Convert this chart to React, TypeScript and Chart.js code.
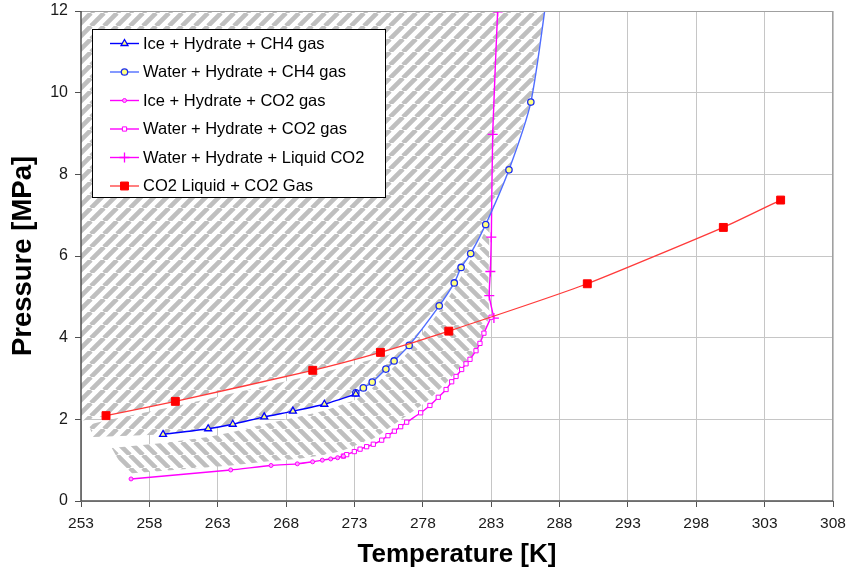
import React, { useEffect, useRef } from 'react';
import { Chart, registerables } from 'chart.js';
import { drawPoint } from 'chart.js/helpers';

Chart.register(...registerables);

// ---------- data ----------
const seriesLabels = [
  'Ice + Hydrate + CH4 gas',
  'Water + Hydrate + CH4 gas',
  'Ice + Hydrate + CO2 gas',
  'Water + Hydrate + CO2 gas',
  'Water + Hydrate + Liquid CO2',
  'CO2 Liquid + CO2 Gas',
];

const ch4IceT = [259.0, 262.3, 264.1, 266.4, 268.5, 270.8, 273.1];
const ch4IceP = [1.63, 1.77, 1.88, 2.06, 2.2, 2.37, 2.62];

const ch4WaterT = [273.1, 273.65, 274.3, 275.3, 275.9, 277.0, 279.2, 280.3, 280.8, 281.5, 282.6, 284.3, 285.9, 287.12];
const ch4WaterP = [2.65, 2.77, 2.91, 3.23, 3.43, 3.81, 4.78, 5.34, 5.72, 6.06, 6.77, 8.11, 9.77, 12.5];

const co2IceT = [256.66, 263.95, 266.9, 268.82, 269.94, 270.65, 271.26, 271.77, 272.19];
const co2IceP = [0.54, 0.76, 0.87, 0.91, 0.96, 1.0, 1.03, 1.06, 1.1];

const co2WaterT = [272.19, 272.43, 272.99, 273.41, 273.89, 274.38, 274.99, 275.45, 275.92, 276.38, 276.82, 277.84, 278.52, 279.13, 279.7, 280.11, 280.43, 280.84, 281.16, 281.45, 281.89, 282.18, 282.47, 282.99];
const co2WaterP = [1.1, 1.135, 1.21, 1.27, 1.33, 1.39, 1.49, 1.6, 1.71, 1.82, 1.93, 2.16, 2.34, 2.54, 2.73, 2.92, 3.05, 3.22, 3.36, 3.47, 3.68, 3.86, 4.11, 4.5];

const liqCo2T = [283.2, 282.86, 282.94, 283.01, 283.11, 283.47];
const liqCo2P = [4.48, 5.03, 5.62, 6.46, 8.98, 11.98];

const co2VapT = [254.83, 259.9, 269.95, 274.9, 279.9, 290.03, 299.98, 304.17];
const co2VapP = [2.09, 2.44, 3.2, 3.64, 4.16, 5.32, 6.7, 7.37];

// hatched zones (outline vertices, T [K] / P [MPa])
const zoneUpperT = [253, 286.9, 285.9, 284.3, 282.6, 281.5, 280.8, 280.3, 279.2, 277.15, 274.9, 269.95, 259.9, 254.83, 253];
const zoneUpperP = [12, 12, 9.77, 8.11, 6.77, 6.06, 5.72, 5.34, 4.78, 3.87, 3.64, 3.2, 2.44, 2.09, 1.96];

const zoneMidT = [253.55, 254.83, 259.9, 269.95, 274.9, 276.7, 275.9, 275.3, 274.3, 273.65, 273.1, 270.8, 268.5, 266.4, 264.1, 262.3, 259.0, 253.9];
const zoneMidP = [1.87, 1.97, 2.32, 3.08, 3.52, 3.7, 3.43, 3.23, 2.91, 2.77, 2.62, 2.37, 2.2, 2.06, 1.88, 1.77, 1.63, 1.57];

const zoneLowT = [255.25, 259.0, 262.3, 264.1, 266.4, 268.5, 270.8, 273.1, 274.3, 275.9, 277.0, 279.2, 280.3, 281.5, 282.6, 282.92,
  282.86, 282.82, 282.76, 282.9,
  282.35, 282.0, 281.7, 281.25, 280.65, 279.95, 279.5, 278.9, 278.3, 277.6, 276.6, 275.7, 274.8, 274.2, 273.2, 272.0, 270.65, 268.8, 266.9, 263.95, 256.3];
const zoneLowP = [1.3, 1.42, 1.57, 1.69, 1.88, 2.03, 2.21, 2.48, 2.77, 3.29, 3.67, 4.64, 5.2, 5.92, 6.63, 6.95,
  6.45, 5.62, 5.03, 4.55,
  4.05, 3.78, 3.6, 3.42, 3.25, 2.98, 2.82, 2.63, 2.44, 2.27, 2.04, 1.83, 1.61, 1.5, 1.38, 1.22, 1.12, 1.03, 0.98, 0.87, 0.67];

const xMin = 253;
const xMax = 308;
const xStep = 5;
const yMin = 0;
const yMax = 12;
const yStep = 2;

const pts = (xs: number[], ys: number[]) => xs.map((x, i) => ({ x, y: ys[i] }));

function makeHatch(dir: number) {
  const s = 13;
  const c = document.createElement('canvas');
  c.width = s;
  c.height = s;
  const g = c.getContext('2d')!;
  g.fillStyle = '#ffffff';
  g.fillRect(0, 0, s, s);
  g.strokeStyle = '#bfbfbf';
  g.lineWidth = 4.6;
  g.beginPath();
  for (const o of [-s, 0, s]) {
    if (dir > 0) {
      g.moveTo(o, s);
      g.lineTo(o + s, 0);
    } else {
      g.moveTo(o, 0);
      g.lineTo(o + s, s);
    }
  }
  g.stroke();
  return g.createPattern(c, 'repeat')!;
}

const SANS = "'Liberation Sans', Arial, Helvetica, sans-serif";

export default function App() {
  const ref = useRef<HTMLCanvasElement>(null);

  useEffect(() => {
    const canvas = ref.current!;
    const patA = makeHatch(1);
    const patB = makeHatch(-1);

    const zone = (data: any[], pat: CanvasPattern) => ({
      label: '',
      data,
      fill: 'shape',
      backgroundColor: pat,
      borderWidth: 0,
      pointRadius: 0,
      tension: 0,
      order: 20,
    });

    const framePlugin = {
      id: 'frame',
      afterDatasetsDraw(chart: any) {
        const { ctx, chartArea: a } = chart;
        ctx.save();
        ctx.lineWidth = 1;
        ctx.strokeStyle = '#a0a0a0';
        ctx.beginPath();
        ctx.moveTo(a.left, a.top + 0.5);
        ctx.lineTo(a.right, a.top + 0.5);
        ctx.moveTo(a.right - 0.5, a.top);
        ctx.lineTo(a.right - 0.5, a.bottom);
        ctx.stroke();
        ctx.lineWidth = 1.5;
        ctx.strokeStyle = '#505050';
        ctx.beginPath();
        ctx.moveTo(a.left, a.top);
        ctx.lineTo(a.left, a.bottom);
        ctx.lineTo(a.right, a.bottom);
        ctx.stroke();
        ctx.restore();
      },
    };

    const legendPlugin = {
      id: 'boxLegend',
      afterDraw(chart: any) {
        const { ctx } = chart;
        const left = 92, top = 29, right = 385, bottom = 197;
        ctx.save();
        ctx.fillStyle = '#ffffff';
        ctx.fillRect(left, top, right - left, bottom - top);
        ctx.strokeStyle = '#000000';
        ctx.lineWidth = 1;
        ctx.strokeRect(left + 0.5, top + 0.5, right - left, bottom - top);
        const rowY0 = 43.5;
        const rowH = 28.5;
        seriesLabels.forEach((label, i) => {
          const ds: any = chart.data.datasets[i];
          const y = rowY0 + i * rowH;
          ctx.strokeStyle = ds.borderColor;
          ctx.lineWidth = ds.borderWidth;
          ctx.beginPath();
          ctx.moveTo(110, y);
          ctx.lineTo(139, y);
          ctx.stroke();
          ctx.fillStyle = ds.pointBackgroundColor;
          ctx.strokeStyle = ds.pointBorderColor;
          ctx.lineWidth = ds.pointBorderWidth;
          drawPoint(ctx, { pointStyle: ds.pointStyle, rotation: 0, radius: ds.pointRadius, borderWidth: ds.pointBorderWidth } as any, 124.5, y);
          ctx.fillStyle = '#000000';
          ctx.font = `16.5px ${SANS}`;
          ctx.textBaseline = 'middle';
          ctx.textAlign = 'left';
          ctx.fillText(label, 143, y + 0.5);
        });
        ctx.restore();
      },
    };

    const chart = new Chart(canvas, {
      type: 'line',
      data: {
        datasets: [
          {
            label: seriesLabels[0],
            data: pts(ch4IceT, ch4IceP),
            borderColor: '#0000ff',
            borderWidth: 1.4,
            pointStyle: 'triangle',
            pointRadius: 4,
            pointBackgroundColor: '#ffff80',
            pointBorderColor: '#0000ff',
            pointBorderWidth: 1.3,
            tension: 0.2,
            fill: false,
            order: 2,
          },
          {
            label: seriesLabels[1],
            data: pts(ch4WaterT, ch4WaterP),
            borderColor: '#4f6dff',
            borderWidth: 1.4,
            pointStyle: 'circle',
            pointRadius: 3.2,
            pointBackgroundColor: '#ffff80',
            pointBorderColor: '#1a2cf0',
            pointBorderWidth: 1.3,
            tension: 0.25,
            fill: false,
            order: 2,
          },
          {
            label: seriesLabels[2],
            data: pts(co2IceT, co2IceP),
            borderColor: '#ff00ff',
            borderWidth: 1.4,
            pointStyle: 'circle',
            pointRadius: 2,
            pointBackgroundColor: '#ff9cff',
            pointBorderColor: '#ff00ff',
            pointBorderWidth: 1,
            tension: 0.2,
            fill: false,
            order: 3,
          },
          {
            label: seriesLabels[3],
            data: pts(co2WaterT, co2WaterP),
            borderColor: '#ff00ff',
            borderWidth: 1.4,
            pointStyle: 'rect',
            pointRadius: 3,
            pointBackgroundColor: '#ffffff',
            pointBorderColor: '#ff00ff',
            pointBorderWidth: 1,
            tension: 0.2,
            fill: false,
            order: 3,
          },
          {
            label: seriesLabels[4],
            data: pts(liqCo2T, liqCo2P),
            borderColor: '#ff00ff',
            borderWidth: 1.4,
            pointStyle: 'cross',
            pointRadius: 5,
            pointBackgroundColor: '#ff00ff',
            pointBorderColor: '#ff00ff',
            pointBorderWidth: 1.3,
            tension: 0.2,
            fill: false,
            order: 3,
          },
          {
            label: seriesLabels[5],
            data: pts(co2VapT, co2VapP),
            borderColor: '#ff3a3a',
            borderWidth: 1.3,
            pointStyle: 'rect',
            pointRadius: 5.6,
            pointBackgroundColor: '#ff0000',
            pointBorderColor: '#ff0000',
            pointBorderWidth: 1,
            tension: 0.15,
            fill: false,
            order: 1,
          },
          zone(pts(zoneUpperT, zoneUpperP), patA),
          zone(pts(zoneMidT, zoneMidP), patA),
          zone(pts(zoneLowT, zoneLowP), patB),
        ] as any,
      },
      options: {
        responsive: false,
        animation: false,
        events: [],
        layout: { padding: { left: 0, top: 11, right: 15, bottom: 0 } },
        plugins: {
          legend: { display: false },
          tooltip: { enabled: false },
        },
        scales: {
          x: {
            type: 'linear',
            min: xMin,
            max: xMax,
            ticks: {
              stepSize: xStep,
              autoSkip: false,
              maxRotation: 0,
              color: '#1a1a1a',
              padding: 7,
              font: { family: SANS, size: 15.5 },
            },
            grid: { color: '#c6c6c6', lineWidth: 1, tickColor: '#505050', tickLength: 6 },
            border: { display: false },
            title: {
              display: true,
              text: 'Temperature [K]',
              color: '#000000',
              font: { family: SANS, size: 26, weight: 'bold' },
              padding: { top: 0, bottom: 6 },
            },
            afterFit: (s: any) => {
              s.height = 75;
              s.paddingLeft = 0;
              s.paddingRight = 0;
            },
          },
          y: {
            type: 'linear',
            min: yMin,
            max: yMax,
            ticks: {
              stepSize: yStep,
              color: '#1a1a1a',
              padding: 7,
              font: { family: SANS, size: 16 },
            },
            grid: { color: '#c6c6c6', lineWidth: 1, tickColor: '#505050', tickLength: 6 },
            border: { display: false },
            title: {
              display: true,
              text: 'Pressure [MPa]',
              color: '#000000',
              font: { family: SANS, size: 27.5, weight: 'bold' },
              padding: { top: 7, bottom: 0 },
            },
            afterFit: (s: any) => {
              s.width = 81;
              s.paddingTop = 0;
              s.paddingBottom = 0;
            },
          },
        },
      } as any,
      plugins: [framePlugin, legendPlugin],
    });

    return () => chart.destroy();
  }, []);

  return (
    <div style={{ position: 'fixed', left: 0, top: 0, width: 848, height: 576, background: '#ffffff' }}>
      <canvas ref={ref} width={848} height={576} style={{ display: 'block', width: 848, height: 576 }} />
    </div>
  );
}
